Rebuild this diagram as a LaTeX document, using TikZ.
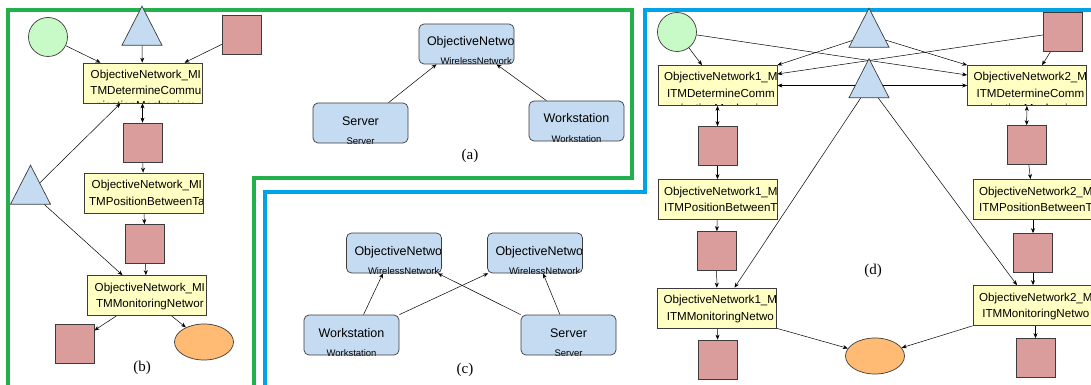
\documentclass[tikz,border=0pt]{standalone}
\usepackage{fontspec}
\usepackage{tikz}
\usepackage{xcolor}
\usetikzlibrary{shapes.geometric,arrows.meta,backgrounds}
\newfontfamily\uifont{Liberation Sans}
\newfontfamily\capfont{Liberation Serif}
\definecolor{boxedge}{RGB}{60,60,60}
\definecolor{taskyellow}{RGB}{255,255,196}
\definecolor{tokenrose}{RGB}{219,156,156}
\definecolor{trigblue}{RGB}{197,219,241}
\definecolor{beginmint}{RGB}{200,250,200}
\definecolor{endorange}{RGB}{255,187,115}
\definecolor{framegreen}{RGB}{34,177,76}
\definecolor{frameblue}{RGB}{0,162,232}

\begin{document}
\begin{tikzpicture}[
    x=1pt, y=-1pt,
    tasktext/.style={anchor=base west, inner sep=0pt, font=\uifont\fontsize{11.6}{14}\selectfont},
    task/.style n args={3}{rectangle, draw=boxedge, line width=0.7pt, fill=taskyellow, minimum width=119pt, minimum height=40pt, inner sep=0pt,
        path picture={
            \node[tasktext] at ([xshift=3pt,yshift=-15.5pt]path picture bounding box.north west) {#1};
            \node[tasktext] at ([xshift=3pt,yshift=-32pt]path picture bounding box.north west) {#2};
            \node[tasktext] at ([xshift=3pt,yshift=-47pt]path picture bounding box.north west) {#3};}},
    asset/.style 2 args={rectangle, rounded corners=5pt, draw=boxedge, line width=0.7pt, fill=trigblue, minimum width=95pt, minimum height=40pt, inner sep=0pt,
        path picture={
            \node[anchor=base, inner sep=0pt, font=\uifont\fontsize{12.5}{14}\selectfont] at ([yshift=-22pt]path picture bounding box.north) {\hbox to 79pt{\hfil#1\hfil}};
            \node[anchor=base, inner sep=0pt, font=\uifont\fontsize{9.5}{11}\selectfont] at ([yshift=-41pt]path picture bounding box.north) {\hbox to 52pt{\hfil#2\hfil}};}},
    beginplace/.style={circle, draw=boxedge, line width=0.7pt, fill=beginmint, minimum size=39pt, inner sep=0pt},
    transit/.style={isosceles triangle, isosceles triangle stretches, shape border rotate=90, draw=boxedge, line width=0.7pt, fill=trigblue, minimum width=40pt, minimum height=39pt, inner sep=0pt},
    tokenbox/.style={rectangle, draw=boxedge, line width=0.7pt, fill=tokenrose, minimum size=39pt, inner sep=0pt},
    endplace/.style={ellipse, draw=boxedge, line width=0.7pt, fill=endorange, minimum width=59pt, minimum height=36pt, inner sep=0pt},
    link/.style={-{Stealth[length=5pt,width=4pt]}, line width=0.5pt},
    dlink/.style={{Stealth[length=5pt,width=4pt]}-{Stealth[length=5pt,width=4pt]}, line width=0.5pt},
    caption/.style={font=\capfont\fontsize{15}{18}\selectfont, inner sep=0pt}
]
\useasboundingbox (0,0) rectangle (1091,385);

% frames
\draw[framegreen, line width=4pt] (8,390) -- (8,10) -- (632,10) -- (632,178) -- (253.5,178) -- (253.5,390);
\draw[frameblue, line width=4pt] (265,390) -- (265,192) -- (645,192) -- (645,10.5) -- (1095,10.5);

% (a) single network
\node[asset={ObjectiveNetwork}{WirelessNetwork}] (aon) at (466.5,44) {};
\node[asset={Server}{Server}] (asrv) at (360.5,123) {};
\node[asset={Workstation}{Workstation}] (awks) at (576.5,121) {};
\node[caption] (alab) at (470,156) {(a)};

% (b) single attack net
\node[beginplace] (bsrc) at (48,37) {};
\node[transit] (btop) at (142,33) {};
\node[tokenbox] (bsq0) at (242,34.5) {};
\node[task={ObjectiveNetwork\_MI}{TMDetermineCommu}{nicationMechanism}] (b1) at (142.5,83) {};
\node[tokenbox] (bsq1) at (142.5,142.5) {};
\node[task={ObjectiveNetwork\_MI}{TMPositionBetweenTa}{}] (b2) at (143.5,193) {};
\node[tokenbox] (bsq2) at (145,244) {};
\node[task={ObjectiveNetwork\_MI}{TMMonitoringNetwor}{}] (b3) at (146.5,295.5) {};
\node[transit] (bleft) at (30.5,192) {};
\node[tokenbox] (bsq3) at (74.5,343.5) {};
\node[endplace] (bend) at (204,342) {};
\node[caption] (blab) at (142,368) {(b)};

% (c) two networks
\node[asset={ObjectiveNetwork}{WirelessNetwork}] (con1) at (394,253) {};
\node[asset={ObjectiveNetwork}{WirelessNetwork}] (con2) at (535,253) {};
\node[asset={Workstation}{Workstation}] (cwks) at (351.5,335) {};
\node[asset={Server}{Server}] (csrv) at (568.5,335) {};
\node[caption] (clab) at (465,370) {(c)};

% (d) combined attack net
\node[beginplace] (dsrc) at (677,32) {};
\node[transit] (dtop) at (869,35) {};
\node[tokenbox] (dsq0) at (1063,32) {};
\node[task={ObjectiveNetwork1\_M}{ITMDetermineComm}{unicationMechanism}] (d1) at (717.5,85.5) {};
\node[task={ObjectiveNetwork2\_M}{ITMDetermineComm}{unicationMechanism}] (d2) at (1027,85.5) {};
\node[transit] (dmid) at (869,85.5) {};
\node[tokenbox] (dsq1) at (717.5,146) {};
\node[tokenbox] (dsq2) at (1026.5,145) {};
\node[task={ObjectiveNetwork1\_M}{ITMPositionBetweenT}{}] (d3) at (717.5,199.5) {};
\node[task={ObjectiveNetwork2\_M}{ITMPositionBetweenT}{}] (d4) at (1032.5,199.5) {};
\node[tokenbox] (dsq3) at (716.5,251) {};
\node[tokenbox] (dsq4) at (1033,253) {};
\node[task={ObjectiveNetwork1\_M}{ITMMonitoringNetwo}{}] (d5) at (717,308) {};
\node[task={ObjectiveNetwork2\_M}{ITMMonitoringNetwo}{}] (d6) at (1032.5,305.5) {};
\node[tokenbox] (dsq5) at (718,359.5) {};
\node[tokenbox] (dsq6) at (1035.5,358) {};
\node[endplace] (dend) at (875,356) {};
\node[caption] (dlab) at (873,271) {(d)};

\begin{pgfonlayer}{background}
% connectors (a)
\draw[link] ([xshift=28pt]asrv.north) -- ([xshift=-30pt]aon.south);
\draw[link] ([xshift=-30pt]awks.north) -- ([xshift=30pt]aon.south);

% connectors (b)
\draw[link] (bsrc) -- ([xshift=-42pt]b1.north);
\draw[link] (btop) -- (b1);
\draw[link] (bsq0) -- ([xshift=42pt]b1.north);
\draw[dlink] (b1) -- (bsq1);
\draw[link] (bsq1) -- (b2);
\draw[link] (b2) -- (bsq2);
\draw[link] (bsq2) -- (b3);
\draw[link] (bleft) -- ([xshift=-22pt]b1.south);
\draw[link] (bleft) -- ([xshift=-24pt]b3.north);
\draw[link] ([xshift=-30pt]b3.south) -- (bsq3);
\draw[link] ([xshift=25pt]b3.south) -- (bend);

% connectors (c)
\draw[link] ([xshift=12pt]cwks.north) -- ([xshift=-11pt]con1.south);
\draw[link] (cwks.north east) -- ([xshift=1pt]con2.south west);
\draw[link] (csrv.north west) -- ([xshift=-4pt]con1.south east);
\draw[link] ([xshift=-8.5pt]csrv.north) -- ([xshift=8pt]con2.south);

% connectors (d)
\draw[link] (dsrc) -- ([xshift=-15.5pt]d1.north);
\draw[link] (dsrc) -- ([yshift=10.5pt]d2.west);
\draw[link] (dtop) -- (d1.north east);
\draw[link] (dtop) -- (d2.north west);
\draw[link] (dsq0) -- ([yshift=11.5pt]d1.east);
\draw[link] (dsq0) -- ([xshift=15pt]d2.north);
\draw[dlink] (d1) -- (d2);
\draw[dlink] (d1) -- (dsq1);
\draw[dlink] (d2) -- (dsq2);
\draw[link] (dsq1) -- (d3);
\draw[link] (dsq2) -- ([xshift=-2pt]d4.north);
\draw[link] (d3) -- (dsq3);
\draw[link] (dsq3) -- (d5);
\draw[link] ([xshift=0.5pt]d4.south) -- (dsq4);
\draw[link] (dsq4) -- ([xshift=0.5pt]d6.north);
\draw[link] (dmid) -- ([xshift=17.5pt]d5.north);
\draw[link] (dmid) -- ([xshift=-15.5pt]d6.north);
\draw[link] (d5) -- (dsq5);
\draw[link] ([xshift=3pt]d6.south) -- (dsq6);
\draw[link] (d5.south east) -- (dend);
\draw[link] (d6.south west) -- (dend);
\end{pgfonlayer}
\end{tikzpicture}
\end{document}
